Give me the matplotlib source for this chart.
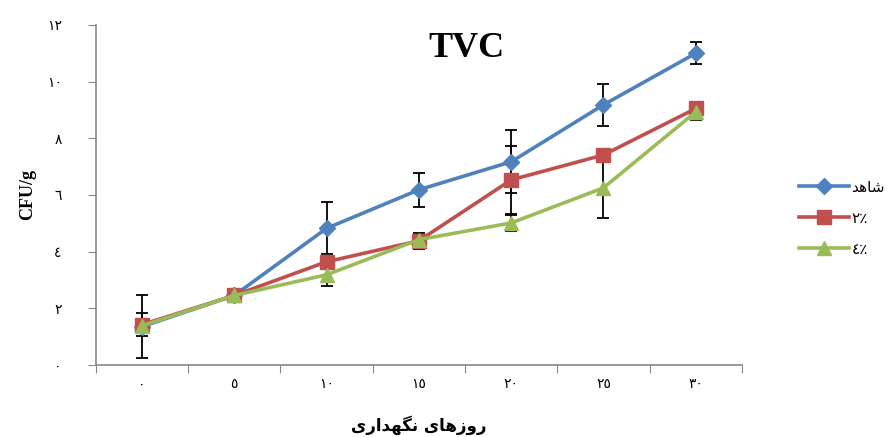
import matplotlib
matplotlib.use("Agg")
import matplotlib.pyplot as plt
from matplotlib.lines import Line2D
import numpy as np

# storage days (labels in Arabic-Indic digits) and TVC counts per treatment
days = ["٠", "٥", "١٠", "١٥", "٢٠", "٢٥", "٣٠"]
yticks = ["٠", "٢", "٤", "٦", "٨", "١٠", "١٢"]
control = [1.35, 2.45, 4.82, 6.18, 7.17, 9.18, 11.0]
control_err = [1.1, 0.0, 0.92, 0.6, 1.12, 0.74, 0.38]
p2 = [1.42, 2.45, 3.64, 4.38, 6.53, 7.41, 9.05]
p2_err = [0.4, 0.0, 0.0, 0.28, 1.2, 0.0, 0.0]
p4 = [1.38, 2.45, 3.18, 4.42, 5.01, 6.25, 8.93]
p4_err = [0.0, 0.0, 0.4, 0.0, 0.28, 1.06, 0.3]

# pre-shaped Persian strings (presentation forms, visual order)
lbl_control = "\ufeaa\ufeeb\ufe8e\ufeb7"          # شاهد
lbl_p2 = "٢٪"
lbl_p4 = "٤٪"
xlabel = "\ufbfc\ufead\ufe8d\ufeaa\ufeec\ufb95\ufee7 \ufbfc\ufe8e\ufeeb\ufeaf\ufeed\ufead"  # روزهای نگهداری

fig = plt.figure(figsize=(8.95, 4.37), dpi=100)
ax = fig.add_axes([0.107, 0.165, 0.722, 0.778])
x = np.arange(len(days))

series = [(control, control_err, "#4F81BD", "D", 8.5, lbl_control),
          (p2, p2_err, "#C0504D", "s", 9.5, lbl_p2),
          (p4, p4_err, "#9BBB59", "^", 10.5, lbl_p4)]
handles = []
for vals, err, col, mk, ms, lab in series:
    ax.errorbar(x, vals, yerr=err, color=col, lw=2.6, marker=mk, ms=ms,
                mec=col, ecolor="black", elinewidth=1.3, capsize=4.5,
                capthick=1.3)
    handles.append(Line2D([], [], color=col, lw=2.6, marker=mk, ms=ms, mec=col, label=lab))

ax.set_xlim(-0.5, 6.5)
ax.set_ylim(0, 12)
ax.set_xticks(np.arange(-0.5, 7, 1))
ax.set_xticklabels([])
ax.set_xticks(x, minor=True)
ax.set_xticklabels(days, minor=True, fontsize=10, family="DejaVu Sans")
ax.tick_params(axis="x", which="major", length=5.5, color="#888888")
ax.tick_params(axis="x", which="minor", length=0, pad=9)
ax.set_yticks(range(0, 13, 2))
ax.set_yticklabels(yticks, fontsize=10, family="DejaVu Sans")
ax.tick_params(axis="y", length=5.5, color="#888888", pad=19)
for s in ["top", "right"]:
    ax.spines[s].set_visible(False)
for s in ["left", "bottom"]:
    ax.spines[s].set_color("#888888")
    ax.spines[s].set_linewidth(1.2)

ax.text(0.574, 0.93, "TVC", transform=ax.transAxes, ha="center", va="center",
        fontsize=26, fontweight="bold", family="Liberation Serif")
ax.set_ylabel("CFU/g", fontsize=13, fontweight="bold", family="Liberation Serif", labelpad=8)
ax.set_xlabel(xlabel, fontsize=12, fontweight="bold", family="DejaVu Sans", labelpad=17)

ax.legend(handles=handles, loc="center left", bbox_to_anchor=(0.877, 0.501),
          bbox_transform=fig.transFigure, frameon=False, handlelength=3.3,
          labelspacing=1.05, handletextpad=0.15,
          prop={"family": "DejaVu Sans", "size": 11})

fig.savefig("out.png", dpi=100)
